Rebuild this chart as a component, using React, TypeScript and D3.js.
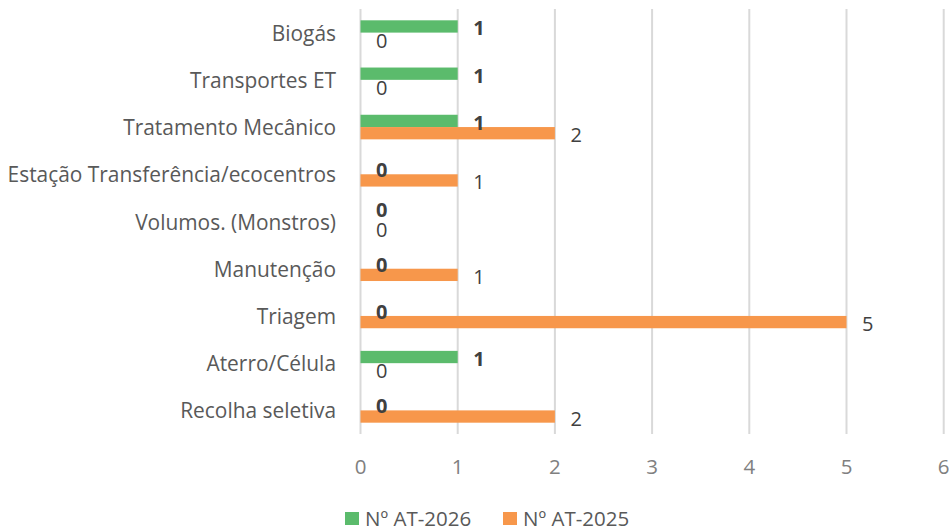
import React from "react";
import * as d3 from "d3";

const categories = [
  "Biogás",
  "Transportes ET",
  "Tratamento Mecânico",
  "Estação Transferência/ecocentros",
  "Volumos. (Monstros)",
  "Manutenção",
  "Triagem",
  "Aterro/Célula",
  "Recolha seletiva",
];
const at2026 = [1, 1, 1, 0, 0, 0, 0, 1, 0];
const at2025 = [0, 0, 2, 1, 0, 1, 5, 0, 2];
const xTicks = [0, 1, 2, 3, 4, 5, 6];
const seriesNames = ["Nº AT-2026", "Nº AT-2025"];
const colors = ["#5BBB6C", "#F7974B"];

const W = 949;
const H = 530;
const left = 360.5;
const right = 943.7;
const top = 9;
const bottom = 434;
const FONT = "'Open Sans', sans-serif";

export default function App() {
  const x = d3.scaleLinear().domain([0, 6]).range([left, right]);
  const y = d3.scaleBand<string>().domain(categories).range([top, bottom]);
  const inner = d3
    .scaleBand<string>()
    .domain(["a", "b"])
    .range([0, y.bandwidth()])
    .paddingOuter(0.92);
  const series = [at2026, at2025];
  const barH = inner.bandwidth();
  const barY = (c: string, si: number) =>
    (y(c) as number) + (inner(si === 0 ? "a" : "b") as number);
  // simple collision avoidance: when both labels sit at the same x, lift the first one
  const labelY = (c: string, si: number, i: number) => {
    const base = barY(c, si) + barH / 2 + 1.5;
    if (si === 0 && at2026[i] === at2025[i]) return base - 7.5;
    return base;
  };

  return (
    <svg
      width={W}
      height={H}
      style={{ position: "absolute", left: 0, top: 0, background: "#fff" }}
      fontFamily={FONT}
    >
      {xTicks.map((t) => (
        <g key={t}>
          <line x1={x(t)} x2={x(t)} y1={top} y2={bottom} stroke="#D9D9D9" strokeWidth={2} />
          <text x={x(t)} y={466} textAnchor="middle" dominantBaseline="central" fontSize={20.5} fill="#808080">
            {t}
          </text>
        </g>
      ))}
      {categories.map((c) => (
        <text
          key={c}
          x={336}
          y={(y(c) as number) + y.bandwidth() / 2}
          textAnchor="end"
          dominantBaseline="central"
          fontSize={20.9}
          fill="#595959"
        >
          {c}
        </text>
      ))}
      {series.map((vals, si) =>
        categories.map((c, i) => (
          <rect
            key={"r" + c + si}
            x={x(0)}
            y={barY(c, si)}
            width={x(vals[i]) - x(0)}
            height={barH}
            fill={colors[si]}
          />
        ))
      )}
      {series.map((vals, si) =>
        categories.map((c, i) => (
          <text
            key={"t" + c + si}
            x={x(vals[i]) + 15.5}
            y={labelY(c, si, i)}
            dominantBaseline="central"
            fontSize={20}
            fontWeight={si === 0 ? "bold" : "normal"}
            fill="#404040"
          >
            {vals[i]}
          </text>
        ))
      )}
      {seriesNames.map((n, i) => {
        const lx = i === 0 ? 345 : 503;
        return (
          <g key={n}>
            <rect x={lx} y={512} width={14} height={13} fill={colors[i]} />
            <text x={lx + 20} y={517.5} dominantBaseline="central" fontSize={20.5} fill="#595959">
              {n}
            </text>
          </g>
        );
      })}
    </svg>
  );
}
